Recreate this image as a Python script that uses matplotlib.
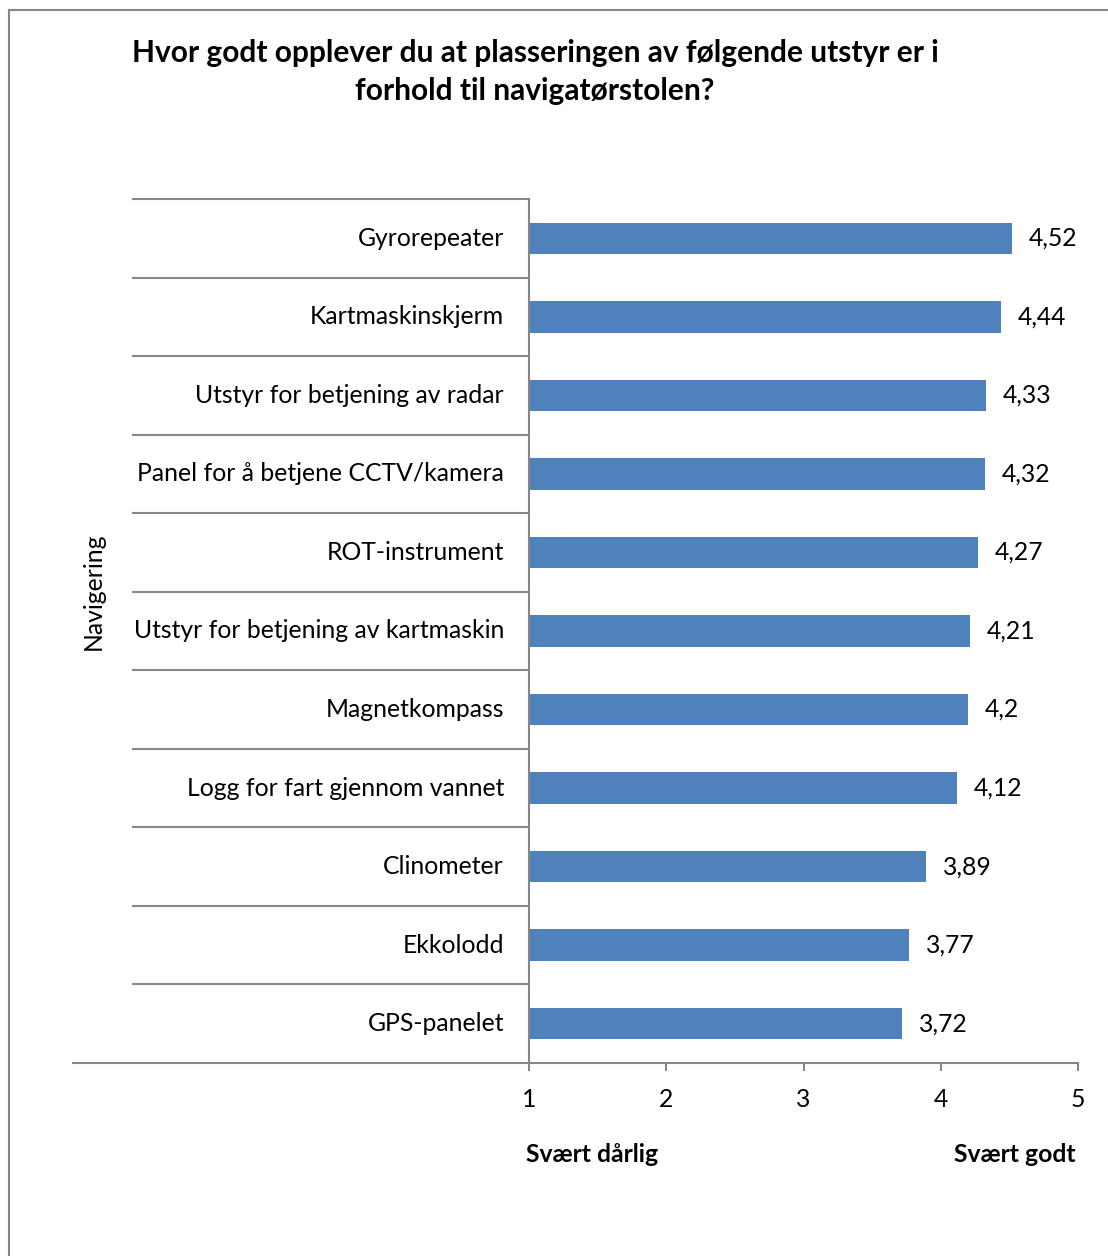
import matplotlib
matplotlib.use("Agg")
import matplotlib.pyplot as plt
from matplotlib.lines import Line2D
import matplotlib.transforms as mtransforms

plt.rcParams['font.family'] = ['Lato', 'DejaVu Sans']

categories = [
    "Gyrorepeater",
    "Kartmaskinskjerm",
    "Utstyr for betjening av radar",
    "Panel for å betjene CCTV/kamera",
    "ROT-instrument",
    "Utstyr for betjening av kartmaskin",
    "Magnetkompass",
    "Logg for fart gjennom vannet",
    "Clinometer",
    "Ekkolodd",
    "GPS-panelet",
]
values = [4.52, 4.44, 4.33, 4.32, 4.27, 4.21, 4.2, 4.12, 3.89, 3.77, 3.72]
value_labels = ["4,52", "4,44", "4,33", "4,32", "4,27", "4,21", "4,2", "4,12", "3,89", "3,77", "3,72"]
xticks = [1, 2, 3, 4, 5]
group_label = "Navigering"
title = "Hvor godt opplever du at plasseringen av følgende utstyr er i\nforhold til navigatørstolen?"
low_label = "Svært dårlig"
high_label = "Svært godt"

FS = 17.8
W, H = 1108, 1256
fig = plt.figure(figsize=(W / 100, H / 100), dpi=100)

left, right, top, bottom = 529, 1078, 199, 1063
ax = fig.add_axes([left / W, 1 - bottom / H, (right - left) / W, (bottom - top) / H])

bar_color = "#4F81BD"
line_color = "#868686"
ypos = list(range(len(categories)))
ax.barh(ypos, [v - 1 for v in values], left=1, height=0.4, color=bar_color)
ax.set_xlim(1, 5)
ax.set_ylim(len(categories) - 0.5, -0.5)

for y, v, lab in zip(ypos, values, value_labels):
    ax.annotate(lab, (v, y), xytext=(17, 0), textcoords="offset pixels",
                ha="left", va="center", fontsize=FS, color="black")

for s in ["top", "right"]:
    ax.spines[s].set_visible(False)
ax.spines["left"].set_color(line_color)
ax.spines["bottom"].set_color(line_color)
ax.spines["left"].set_linewidth(1.5)
ax.spines["bottom"].set_linewidth(1.5)

ax.set_xticks(xticks)
ax.set_xticklabels([str(t) for t in xticks], fontsize=FS)
ax.tick_params(axis="x", direction="out", length=6, width=1.5, color=line_color, pad=12)
ax.set_yticks([])

# category labels and separator lines in the left margin
blend = mtransforms.blended_transform_factory(ax.transAxes, ax.transData)
sep_x0 = (133 - left) / (right - left)
for y, cat in zip(ypos, categories):
    ax.text(-25 / (right - left), y, cat, transform=blend, ha="right", va="center",
            fontsize=FS, color="black")
for k in range(len(categories)):
    ax.add_line(Line2D([sep_x0, 0], [k - 0.5, k - 0.5], transform=blend,
                       color=line_color, lw=1.5, clip_on=False))
outer_x0 = (73 - left) / (right - left)
ax.add_line(Line2D([outer_x0, 0], [len(categories) - 0.5] * 2, transform=blend,
                   color=line_color, lw=1.5, clip_on=False))

fig.text(93 / W, 1 - 591 / H, group_label, rotation=90, ha="center", va="center", fontsize=FS)

fig.text(535 / W, 1 - 72 / H, title, ha="center", va="center", fontsize=21.5,
         fontweight="bold", linespacing=1.4)

fig.text(592 / W, 1 - 1155 / H, low_label, ha="center", va="center", fontsize=FS, fontweight="bold")
fig.text(1015 / W, 1 - 1155 / H, high_label, ha="center", va="center", fontsize=FS, fontweight="bold")

# outer frame
fig.add_artist(Line2D([9 / W, 9 / W], [0, 1 - 10 / H], transform=fig.transFigure,
                      color=line_color, lw=1.5))
fig.add_artist(Line2D([9 / W, 1], [1 - 10 / H, 1 - 10 / H], transform=fig.transFigure,
                      color=line_color, lw=1.5))

fig.savefig("out.png", dpi=100, facecolor="white")
